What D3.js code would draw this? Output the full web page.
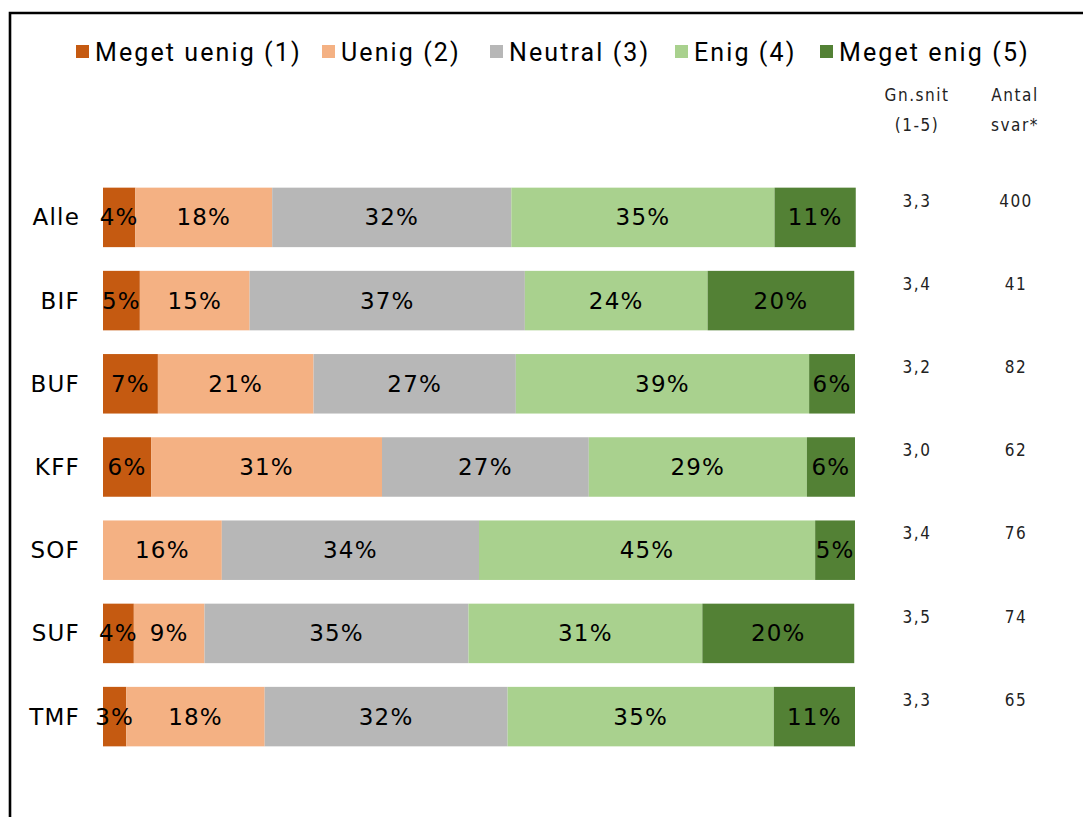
<!DOCTYPE html>
<html><head><meta charset="utf-8">
<script src="https://cdn.jsdelivr.net/npm/d3@7"></script>
<style>body{margin:0;background:#fff;} svg{display:block;}</style>
</head><body><svg id="c" width="1083" height="817"></svg>
<script>
const categories = ["Alle","BIF","BUF","KFF","SOF","SUF","TMF"];
const seriesNames = ["Meget uenig (1)","Uenig (2)","Neutral (3)","Enig (4)","Meget enig (5)"];
const colors = ["#c55a11","#f4b183","#b7b7b7","#a9d18e","#538135"];
// shares (%) per category, in series order
const meget_uenig = [4.3, 4.9, 7.3, 6.4, 0, 4.1, 3.1];
const uenig       = [18.2, 14.6, 20.7, 30.7, 15.8, 9.4, 18.4];
const neutral     = [31.8, 36.6, 26.9, 27.5, 34.2, 35.1, 32.3];
const enig        = [35.0, 24.3, 39.0, 29.0, 44.7, 31.1, 35.4];
const meget_enig  = [10.8, 19.5, 6.1, 6.4, 5.3, 20.2, 10.8];
const gnsnit = ["3,3","3,4","3,2","3,0","3,4","3,5","3,3"];
const antal  = ["400","41","82","62","76","74","65"];

const series = [meget_uenig, uenig, neutral, enig, meget_enig];
const rows = categories.map((c,i)=>{const o={cat:c}; seriesNames.forEach((s,j)=>o[s]=series[j][i]); return o;});
const stack = d3.stack().keys(seriesNames)(rows);

const svg = d3.select("#c");
// frame
svg.append("path").attr("d","M10,817 L10,13 L1083,13").attr("fill","none").attr("stroke","#000").attr("stroke-width",2.6);

const x = d3.scaleLinear().domain([0,100]).range([103,855]);
const y = d3.scaleBand().domain(categories).range([176,758]).paddingInner(0.285).paddingOuter(0.14);

const mainFont = "'DejaVu Sans', sans-serif";
const g = svg.append("g");
stack.forEach((layer,k)=>{
  g.selectAll(null).data(layer).enter().append("rect")
    .attr("x",d=>x(d[0])).attr("width",d=>x(d[1])-x(d[0]))
    .attr("y",d=>y(d.data.cat)).attr("height",y.bandwidth())
    .attr("fill",colors[k]);
});
stack.forEach((layer,k)=>{
  g.selectAll(null).data(layer.filter(d=>d[1]-d[0]>0.5)).enter().append("text")
    .attr("x",d=>(x(d[0])+x(d[1]))/2).attr("y",d=>y(d.data.cat)+y.bandwidth()/2)
    .attr("text-anchor","middle").attr("dominant-baseline","central")
    .attr("font-family",mainFont).attr("font-size",23).attr("letter-spacing",1.2).attr("fill","#000")
    .text(d=>Math.round(d[1]-d[0])+"%");
});
// category labels
const yAxis = d3.axisLeft(y).tickSize(0).tickPadding(21);
const ga = svg.append("g").attr("transform","translate(101,0)").call(yAxis);
ga.select(".domain").remove();
ga.selectAll("text").attr("font-family",mainFont).attr("font-size",23).attr("letter-spacing",1.2).attr("fill","#000").attr("dy","0.35em");

// side columns
const sideFont = "'DejaVu Sans Condensed', 'DejaVu Sans', sans-serif";
svg.selectAll(null).data(categories).enter().append("text")
  .attr("x",917).attr("y",c=>y(c)+19).attr("text-anchor","middle")
  .attr("font-family",sideFont).attr("font-size",17).attr("letter-spacing",1.5).attr("fill","#222")
  .text((c,i)=>gnsnit[i]);
svg.selectAll(null).data(categories).enter().append("text")
  .attr("x",1016).attr("y",c=>y(c)+19).attr("text-anchor","middle")
  .attr("font-family",sideFont).attr("font-size",17).attr("letter-spacing",1.5).attr("fill","#222")
  .text((c,i)=>antal[i]);
const hdr = [["Gn.snit","(1-5)",917],["Antal","svar*",1015]];
hdr.forEach(h=>{
  svg.append("text").attr("x",h[2]).attr("y",101).attr("text-anchor","middle")
    .attr("font-family",sideFont).attr("font-size",17).attr("letter-spacing",1.5).attr("fill","#222").text(h[0]);
  svg.append("text").attr("x",h[2]).attr("y",131).attr("text-anchor","middle")
    .attr("font-family",sideFont).attr("font-size",17).attr("letter-spacing",1.5).attr("fill","#222").text(h[1]);
});

// legend
const legX = [76, 322, 490, 675, 820];
const lg = svg.append("g");
seriesNames.forEach((s,i)=>{
  lg.append("rect").attr("x",legX[i]).attr("y",45).attr("width",13).attr("height",13).attr("fill",colors[i]);
  lg.append("text").attr("x",legX[i]+19).attr("y",61)
    .attr("font-family","Roboto, sans-serif").attr("font-size",25).attr("letter-spacing",2.1).attr("fill","#000").text(s);
});
</script></body></html>
